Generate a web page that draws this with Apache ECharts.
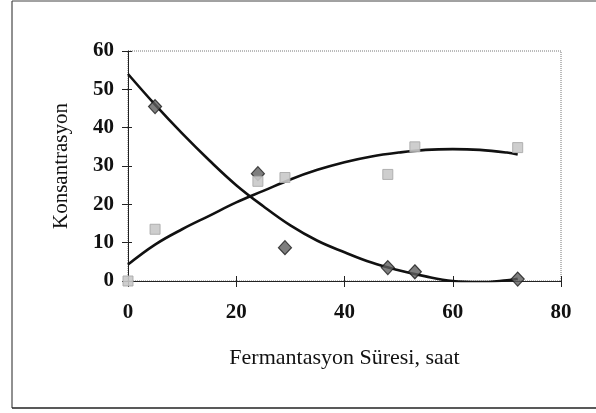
<!DOCTYPE html>
<html><head><meta charset="utf-8">
<script src="https://cdn.jsdelivr.net/npm/echarts@6/dist/echarts.min.js"></script>
<style>html,body{margin:0;padding:0;background:#fff}#c{width:596px;height:413px}</style>
</head><body><div id="c"></div>
<script>
// Measured data
var substrateX = [5, 24, 29, 48, 53, 72];
var substrateY = [45.5, 28, 8.7, 3.5, 2.4, 0.5];
var productX = [0, 5, 24, 29, 48, 53, 72];
var productY = [0, 13.5, 26, 27, 27.8, 35, 34.8];
// Trend curves
var trendX = [0, 5, 10, 15, 20, 25, 30, 35, 40, 45, 50, 55, 60, 65, 70, 72];
var substrateTrend = [54, 46, 38.5, 31.5, 25, 19.5, 14.5, 10.5, 7.5, 4.8, 2.8, 1.2, 0, -0.3, 0.2, 0.6];
var productTrend = [4.3, 9.5, 13.5, 17, 20.5, 23.5, 26.5, 29, 31, 32.5, 33.5, 34.2, 34.4, 34.2, 33.5, 33];
var xTicks = [0, 20, 40, 60, 80];
var yTicks = [0, 10, 20, 30, 40, 50, 60];

function pairs(xs, ys){ return xs.map(function(x,i){ return [x, ys[i]]; }); }
var serif = '"Liberation Serif", "DejaVu Serif", serif';
var chart = echarts.init(document.getElementById('c'), null, {renderer:'canvas'});
chart.setOption({
  animation: false,
  backgroundColor: '#fff',
  graphic: [
    {type:'line', shape:{x1:12,y1:1,x2:12,y2:408}, style:{stroke:'#222', lineWidth:1}},
    {type:'line', shape:{x1:12,y1:1,x2:596,y2:1}, style:{stroke:'#444', lineWidth:1}},
    {type:'line', shape:{x1:12,y1:408,x2:596,y2:408}, style:{stroke:'#222', lineWidth:1.5}}
  ],
  grid: {left:128, right:35, top:51, bottom:132, show:true, borderColor:'#777', borderWidth:1, borderType:'dotted'},
  xAxis: [{
    type:'value', min:0, max:80, interval:20,
    axisLine:{show:true, onZero:false, lineStyle:{color:'#222', width:1}},
    axisTick:{show:true, inside:false, length:6, lineStyle:{color:'#222'}},
    splitLine:{show:false},
    axisLabel:{margin:21, fontFamily:serif, fontSize:21, fontWeight:'bold', color:'#111'},
    name:'Fermantasyon Süresi, saat', nameLocation:'middle', nameGap:66,
    nameTextStyle:{fontFamily:serif, fontSize:22, color:'#111'}
  },{
    type:'value', min:0, max:80, interval:20, position:'bottom',
    axisLine:{show:false}, axisTick:{show:true, inside:true, length:5, lineStyle:{color:'#222'}},
    axisLabel:{show:false}, splitLine:{show:false}
  }],
  yAxis: [{
    type:'value', min:0, max:60, interval:10,
    axisLine:{show:true, onZero:false, lineStyle:{color:'#222', width:1}},
    axisTick:{show:true, inside:false, length:6, lineStyle:{color:'#222'}},
    splitLine:{show:false},
    axisLabel:{margin:14, fontFamily:serif, fontSize:21, fontWeight:'bold', color:'#111'},
    name:'Konsantrasyon', nameLocation:'middle', nameGap:56,
    nameTextStyle:{fontFamily:serif, fontSize:21, color:'#111'}
  },{
    type:'value', min:0, max:60, interval:10, position:'left',
    axisLine:{show:false}, axisTick:{show:true, inside:true, length:4, lineStyle:{color:'#222'}},
    axisLabel:{show:false}, splitLine:{show:false}
  }],
  series: [
    {type:'line', name:'substrateTrend', data:pairs(trendX, substrateTrend), smooth:0.4, showSymbol:false,
     lineStyle:{color:'#111', width:2.6}, z:3},
    {type:'line', name:'productTrend', data:pairs(trendX, productTrend), smooth:0.4, showSymbol:false,
     lineStyle:{color:'#111', width:2.6}, z:3},
    {type:'scatter', name:'substrate', data:pairs(substrateX, substrateY), symbol:'diamond', symbolSize:[13,14],
     itemStyle:{color:'#5e5e5e', borderColor:'#1a1a1a', borderWidth:1.2}, z:4},
    {type:'scatter', name:'product', data:pairs(productX, productY), symbol:'rect', symbolSize:10,
     itemStyle:{color:'#c9c9c9', borderColor:'#aaa', borderWidth:1, opacity:0.9}, z:5}
  ]
});
</script></body></html>
